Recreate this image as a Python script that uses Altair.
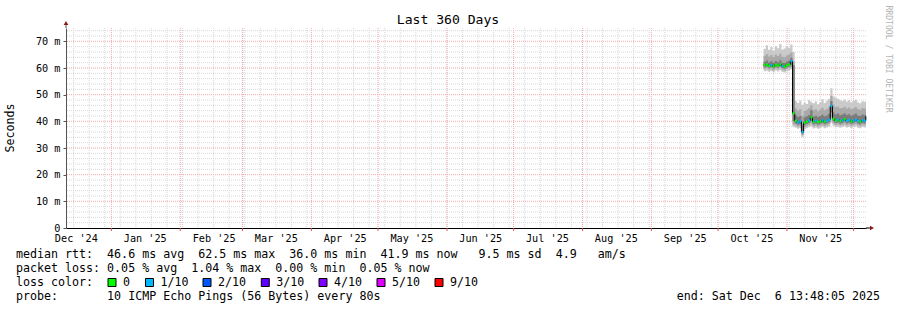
import altair as alt
import pandas as pd

# ---------------- data ----------------
T_START = "2024-12-11T13:48:05Z"
T_END = "2025-12-06T13:48:05Z"
FIRST_DAY = "2025-10-21T12:00:00Z"   # first daily sample (each sample covers one day)

# median rtt (ms), one value per day from Oct 21 to Dec 6 2025
med = [61.0, 61.3, 60.8, 61.1, 60.6, 61.2, 60.9, 61.4, 60.7, 60.5, 61.0, 61.3, 62.6,
       43.0,
       40.2, 39.6, 40.0, 36.0, 39.5, 39.9, 40.3, 41.5, 39.8, 40.1, 39.7, 40.0, 40.4, 39.9, 40.2, 40.6,
       45.8,
       41.0, 40.3, 40.6, 40.1, 40.4, 40.8, 40.2, 40.5, 40.0, 40.3, 40.7, 40.1, 39.9, 40.4, 40.2, 41.9]
# lost pings out of 10
loss = [0, 0, 0, 1, 0, 0, 0, 0, 1, 0, 0, 0, 1,
        0,
        0, 1, 1, 1, 0, 0, 1, 0, 0, 1, 0, 0, 1, 0, 1, 1,
        1,
        0, 0, 1, 0, 1, 0, 1, 1, 0, 1, 1, 1, 0, 1, 1, 1]
# smoke: sorted ping spread (ms)
mn = [58.8, 59.0, 58.6, 58.9, 58.4, 59.1, 58.7, 59.2, 58.5, 58.3, 58.8, 59.0, 59.5,
      38.0,
      37.6, 37.2, 37.5, 34.0, 37.0, 37.4, 37.8, 38.2, 37.3, 37.6, 37.2, 37.5, 37.9, 37.4, 37.7, 38.0,
      39.5,
      38.3, 37.8, 38.0, 37.6, 37.9, 38.2, 37.7, 37.9, 37.5, 37.8, 38.1, 37.6, 37.4, 37.9, 37.7, 38.8]
lo2 = [59.6, 59.9, 59.4, 59.7, 59.2, 59.8, 59.5, 60.0, 59.3, 59.1, 59.6, 59.9, 60.3,
       38.8,
       38.5, 38.0, 38.3, 34.8, 37.8, 38.2, 38.6, 39.3, 38.1, 38.4, 38.0, 38.3, 38.7, 38.2, 38.5, 38.9,
       41.4,
       39.2, 38.6, 38.9, 38.4, 38.7, 39.1, 38.5, 38.8, 38.3, 38.6, 39.0, 38.4, 38.2, 38.7, 38.5, 40.0]
lo3 = [60.3, 60.6, 60.1, 60.4, 59.9, 60.5, 60.2, 60.7, 60.0, 59.8, 60.3, 60.6, 61.2,
       40.0,
       39.2, 38.7, 39.0, 35.3, 38.6, 39.0, 39.4, 40.2, 38.9, 39.2, 38.8, 39.1, 39.5, 39.0, 39.3, 39.7,
       43.4,
       40.0, 39.4, 39.7, 39.2, 39.5, 39.9, 39.3, 39.6, 39.1, 39.4, 39.8, 39.2, 39.0, 39.5, 39.3, 40.9]
hi3 = [62.3, 62.8, 62.1, 62.5, 62.0, 62.6, 62.2, 62.9, 62.0, 61.9, 62.4, 62.7, 63.8,
       61.0,
       42.3, 41.6, 42.0, 38.6, 41.5, 41.9, 42.4, 44.2, 41.8, 42.1, 41.6, 42.0, 42.5, 41.9, 42.2, 42.8,
       47.6,
       43.3, 42.6, 42.9, 42.3, 42.6, 43.0, 42.4, 42.7, 42.1, 42.5, 42.9, 42.2, 42.0, 42.6, 42.4, 43.6]
hi2 = [64.6, 65.2, 64.3, 64.9, 64.1, 65.0, 64.5, 65.3, 64.2, 64.0, 64.7, 65.1, 65.8,
       62.5,
       44.8, 44.0, 44.5, 42.1, 43.9, 44.3, 44.9, 46.0, 44.2, 44.6, 43.8, 44.4, 45.1, 44.2, 44.7, 45.3,
       49.6,
       46.2, 45.4, 45.6, 44.9, 45.0, 45.5, 44.8, 45.2, 44.5, 44.9, 45.4, 44.6, 44.3, 45.0, 44.8, 45.8]
mx = [67.2, 68.5, 66.8, 67.9, 66.5, 68.2, 67.4, 69.0, 66.9, 67.3, 68.1, 67.6, 68.8,
      66.0,
      47.6, 46.9, 47.8, 46.2, 47.1, 46.5, 48.0, 47.3, 46.8, 47.5, 46.4, 47.2, 48.3, 46.9, 47.7, 48.4,
      52.4,
      49.3, 48.8, 48.5, 47.9, 47.6, 48.2, 47.4, 47.9, 47.1, 47.6, 48.1, 47.2, 46.8, 47.5, 47.3, 48.0]

loss_labels = ["0", "1/10", "2/10", "3/10", "4/10", "5/10", "9/10"]
loss_colors = ["#00ff00", "#00b8ff", "#0059ff", "#5e00ff", "#7e00ff", "#dd00ff", "#ff0000"]

y_ticks = [0, 10, 20, 30, 40, 50, 60, 70]
month_label_dates = ["2024-12-16", "2025-01-16", "2025-02-16", "2025-03-16", "2025-04-16",
                     "2025-05-16", "2025-06-16", "2025-07-16", "2025-08-16", "2025-09-16",
                     "2025-10-16", "2025-11-16"]

legend_lines = [
    "median rtt:  46.6 ms avg  62.5 ms max  36.0 ms min  41.9 ms now   9.5 ms sd  4.9   am/s",
    "packet loss: 0.05 % avg  1.04 % max  0.00 % min  0.05 % now",
    "loss color:",
    "probe:       10 ICMP Echo Pings (56 Bytes) every 80s",
]
end_text = "end: Sat Dec  6 13:48:05 2025"
title_text = "Last 360 Days"
watermark = "RRDTOOL / TOBI OETIKER"
unit_text = "Seconds"

# ---------------- build tables ----------------
def ms(ts):
    ts = pd.Timestamp(ts)
    if ts.tzinfo is None:
        ts = ts.tz_localize("UTC")
    return int(ts.timestamp() * 1000)

t0, t1 = ms(T_START), ms(T_END)
n = len(med)
days = pd.date_range(FIRST_DAY, periods=n, freq="D")
t = [int(d.timestamp() * 1000) for d in days]
t_next = t[1:] + [t1]

bands = []
for name, lo, hi in [("outer", mn, mx), ("mid", lo2, hi2), ("inner", lo3, hi3)]:
    for i in range(n):
        bands.append({"t": t[i], "v": lo[i], "v2": hi[i], "band": name})
    bands.append({"t": t1, "v": lo[-1], "v2": hi[-1], "band": name})
bands = pd.DataFrame(bands)

med_df = pd.DataFrame({"t": t + [t1], "v": med + [med[-1]]})
seg_df = pd.DataFrame({"t": t, "t2": t_next, "v": med,
                       "loss": [loss_labels[0] if l == 0 else f"{l}/10" for l in loss]})

week_lines = pd.DataFrame({"t": [int(d.timestamp() * 1000) for d in
                                 pd.date_range("2024-12-15", "2025-12-06", freq="7D", tz="UTC")]})
month_lines = pd.DataFrame({"t": [int(d.timestamp() * 1000) for d in
                                  pd.date_range("2025-01-01", "2025-12-01", freq="MS", tz="UTC")]})
label_vals = [ms(d) for d in month_label_dates]

minor_y = pd.DataFrame({"v": [v for v in range(2, 75, 2) if v % 10]})
major_y = pd.DataFrame({"v": [v for v in y_ticks if v > 0]})

# ---------------- chart ----------------
W, H = 800, 200
MONO = "DejaVu Sans Mono"
xs = alt.Scale(domain=[t0, t1], nice=False, zero=False)
ys = alt.Scale(domain=[0, 75], nice=False, zero=True)

x_axis = alt.Axis(values=label_vals, labelExpr="utcFormat(datum.value, \"%b '%y\")",
                  ticks=False, grid=False, domainColor="#000000", domainWidth=1,
                  labelFont=MONO, labelFontSize=10.2, labelColor="#000000",
                  labelPadding=5, labelFlush=False, labelOverlap=False, title="")
y_axis = alt.Axis(values=y_ticks,
                  labelExpr="datum.value == 0 ? '0' : datum.value + ' m'",
                  grid=False, domainColor="#555555", tickColor="#555555", tickSize=3,
                  labelFont=MONO, labelFontSize=10.2, labelColor="#000000",
                  labelPadding=3, title="")

X = lambda f="t": alt.X(f"{f}:Q", scale=xs, axis=x_axis)
Y = lambda f="v": alt.Y(f"{f}:Q", scale=ys, axis=y_axis)

grid_minor_y = alt.Chart(minor_y).mark_rule(color="#d8d8d8", strokeDash=[1, 1], strokeWidth=1).encode(y=Y())
grid_minor_x = alt.Chart(week_lines).mark_rule(color="#d8d8d8", strokeDash=[1, 1], strokeWidth=1).encode(x=X())
grid_major_y = alt.Chart(major_y).mark_rule(color="#f3a8a8", strokeDash=[1, 1], strokeWidth=1).encode(y=Y())
grid_major_x = alt.Chart(month_lines).mark_rule(color="#f3a8a8", strokeDash=[1, 1], strokeWidth=1).encode(x=X())
month_ticks = alt.Chart(month_lines).mark_rule(color="#e05050", strokeWidth=1).encode(
    x=X(), y=alt.value(H), y2=alt.value(H + 3))

band_colors = {"outer": "#cacaca", "mid": "#a9a9a9", "inner": "#7c7c7c"}
band_layers = [
    alt.Chart(bands[bands.band == b]).mark_area(interpolate="step-after", color=c, opacity=1)
    .encode(x=X(), y=Y(), y2="v2:Q")
    for b, c in band_colors.items()
]
med_line = alt.Chart(med_df).mark_line(interpolate="step-after", color="#000000", strokeWidth=1).encode(x=X(), y=Y())
med_seg = alt.Chart(seg_df).mark_rule(strokeWidth=2.2).encode(
    x=X(), x2="t2:Q", y=Y(),
    color=alt.Color("loss:N", scale=alt.Scale(domain=loss_labels, range=loss_colors), legend=None))

# axis extensions and arrows
ext = pd.DataFrame({"k": [0]})
y_ext = alt.Chart(ext).mark_rule(color="#555555").encode(x=alt.value(0), y=alt.value(-5), y2=alt.value(0))
x_ext = alt.Chart(ext).mark_rule(color="#000000").encode(x=alt.value(W), x2=alt.value(W + 5), y=alt.value(H))
arrow_up = alt.Chart(ext).mark_point(shape="triangle-up", filled=True, color="#8b1a1a", size=22, opacity=1).encode(
    x=alt.value(0), y=alt.value(-5))
arrow_right = alt.Chart(ext).mark_point(shape="triangle-right", filled=True, color="#8b1a1a", size=22, opacity=1).encode(
    x=alt.value(W + 6), y=alt.value(H))

NB = lambda s: s.replace(" ", "\u00a0")
txt = lambda s, **kw: alt.Chart(pd.DataFrame({"s": [NB(s)]})).mark_text(**kw).encode(text="s:N")

LX = -50  # legend left (x=16 in page)
LFS = 11.65
text_layers = []
for i, line in enumerate(legend_lines):
    text_layers.append(
        txt(line, font=MONO, fontSize=LFS, align="left", baseline="alphabetic", color="#000000")
        .encode(x=alt.value(LX), y=alt.value(H + 30 + 14 * i)))
text_layers.append(
    txt(end_text, font=MONO, fontSize=LFS, align="right", baseline="alphabetic", color="#000000")
    .encode(x=alt.value(814), y=alt.value(H + 72)))
text_layers.append(
    txt(title_text, font=MONO, fontSize=13.1, align="center", baseline="alphabetic", color="#000000")
    .encode(x=alt.value(382), y=alt.value(-4)))
text_layers.append(
    txt(unit_text, font=MONO, fontSize=LFS, align="center", baseline="middle", angle=270, color="#000000")
    .encode(x=alt.value(-55), y=alt.value(100)))
text_layers.append(
    txt(watermark, font=MONO, fontSize=8.1, align="center", baseline="middle", angle=90, color="#b4b4b4")
    .encode(x=alt.value(822), y=alt.value(31)))

# loss colour legend
sq_x = [46, 83.5, 141, 199.3, 257, 315, 373]
leg = pd.DataFrame({"label": loss_labels, "color": loss_colors, "px": sq_x,
                    "tx": [p + 11 for p in sq_x]})
leg_sq = alt.Chart(leg).mark_square(size=64, opacity=1, stroke="#000000", strokeWidth=1).encode(
    x=alt.X("px:Q", scale=None), y=alt.value(H + 54.5),
    fill=alt.Fill("color:N", scale=None))
leg_tx = alt.Chart(leg).mark_text(font=MONO, fontSize=LFS, align="left", baseline="alphabetic", color="#000000").encode(
    x=alt.X("tx:Q", scale=None), y=alt.value(H + 58), text="label:N")

chart = alt.layer(
    grid_minor_y, grid_minor_x, grid_major_y, grid_major_x,
    *band_layers, med_line, med_seg,
    month_ticks, y_ext, x_ext, arrow_up, arrow_right,
    *text_layers, leg_sq, leg_tx,
).properties(
    width=W, height=H,
    autosize=alt.AutoSizeParams(type="none"),
    padding={"left": 66, "top": 28, "right": 31, "bottom": 82},
    background="#ffffff",
).configure_view(stroke=None)

chart.save("out.html", embed_options={"renderer": "svg", "actions": False})
